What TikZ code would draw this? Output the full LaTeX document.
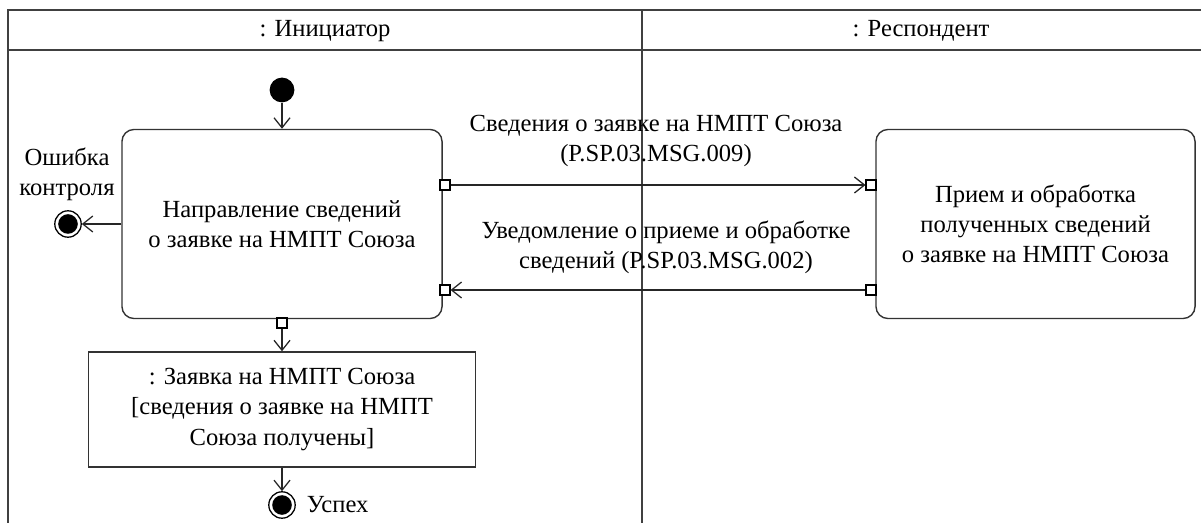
\documentclass[tikz,border=0pt]{standalone}
\usepackage{fontspec}
\setmainfont{Liberation Serif}
\usetikzlibrary{arrows.meta}

\tikzset{
	every node/.style={font=\fontsize{17.5}{21.5}\selectfont},
	action/.style={draw, line width=1pt, black!80, text=black, rounded corners=0.3cm, minimum width=8cm, minimum height=4.725cm, align=center, inner sep=0pt},
	objnode/.style={draw, line width=1pt, black!80, text=black, minimum width=9.675cm, minimum height=2.875cm, align=center, inner sep=0pt},
	pinbox/.style={draw, line width=0.8pt, fill=white, minimum size=0.25cm, inner sep=0pt},
	startdot/.style={circle, fill=black, minimum size=0.62cm, inner sep=0pt},
	enddot/.style={circle, draw, line width=0.9pt, minimum size=0.66cm, inner sep=0pt, path picture={\fill (path picture bounding box.center) circle (0.245cm);}},
	flow/.style={line width=0.9pt, black!85, -{Straight Barb[length=0.25cm,width=0.4cm]}},
	lane/.style={line width=1.3pt, black!75}
}

\begin{document}
\begin{tikzpicture}[x=0.025cm, y=-0.025cm]
	\useasboundingbox (0,0) rectangle (1201,523);
	\draw[lane] (8,523) -- (8,10) -- (1201,10);
	\draw[lane] (8,50) -- (1201,50);
	\draw[lane] (642,10) -- (642,523);
	\node (initiator) at (325,31) {: Инициатор};
	\node (respondent) at (921,31) {: Респондент};

	\node[startdot] (start) at (282,90) {};
	\node[action] (send) at (282,224) {Направление сведений\\о заявке на НМПТ Союза};
	\node[action, minimum width=7.975cm] (receive) at (1035.5,224) {Прием и обработка\\полученных сведений\\о заявке на НМПТ Союза};
	\node[objnode] (request) at (282,409.5) {: Заявка на НМПТ Союза\\{[}сведения о заявке на НМПТ\\Союза получены{]}};
	\node[enddot] (fail) at (68,224) {};
	\node[enddot] (success) at (282,505) {};
	\node[align=center] (faillbl) at (67,174) {Ошибка\\контроля};
	\node[anchor=west] (successlbl) at (302,505) {Успех};

	\node[pinbox] (sendout) at (445,185) {};
	\node[pinbox] (sendin) at (445,290) {};
	\node[pinbox] (sendobj) at (282,323) {};
	\node[pinbox] (recvin) at (871,185) {};
	\node[pinbox] (recvout) at (871,290) {};

	\node[align=center] (msgone) at (656,141) {Сведения о заявке на НМПТ Союза\\(P.SP.03.MSG.009)};
	\node[align=center] (msgtwo) at (666,247) {Уведомление о приеме и обработке\\сведений (P.SP.03.MSG.002)};

	\draw[flow] (start) -- (send);
	\draw[flow] (send.west) -- (fail);
	\draw[flow] (sendout) -- (recvin);
	\draw[flow] (recvout) -- (sendin);
	\draw[flow] (sendobj) -- (request);
	\draw[flow] (request) -- (success);
\end{tikzpicture}
\end{document}
